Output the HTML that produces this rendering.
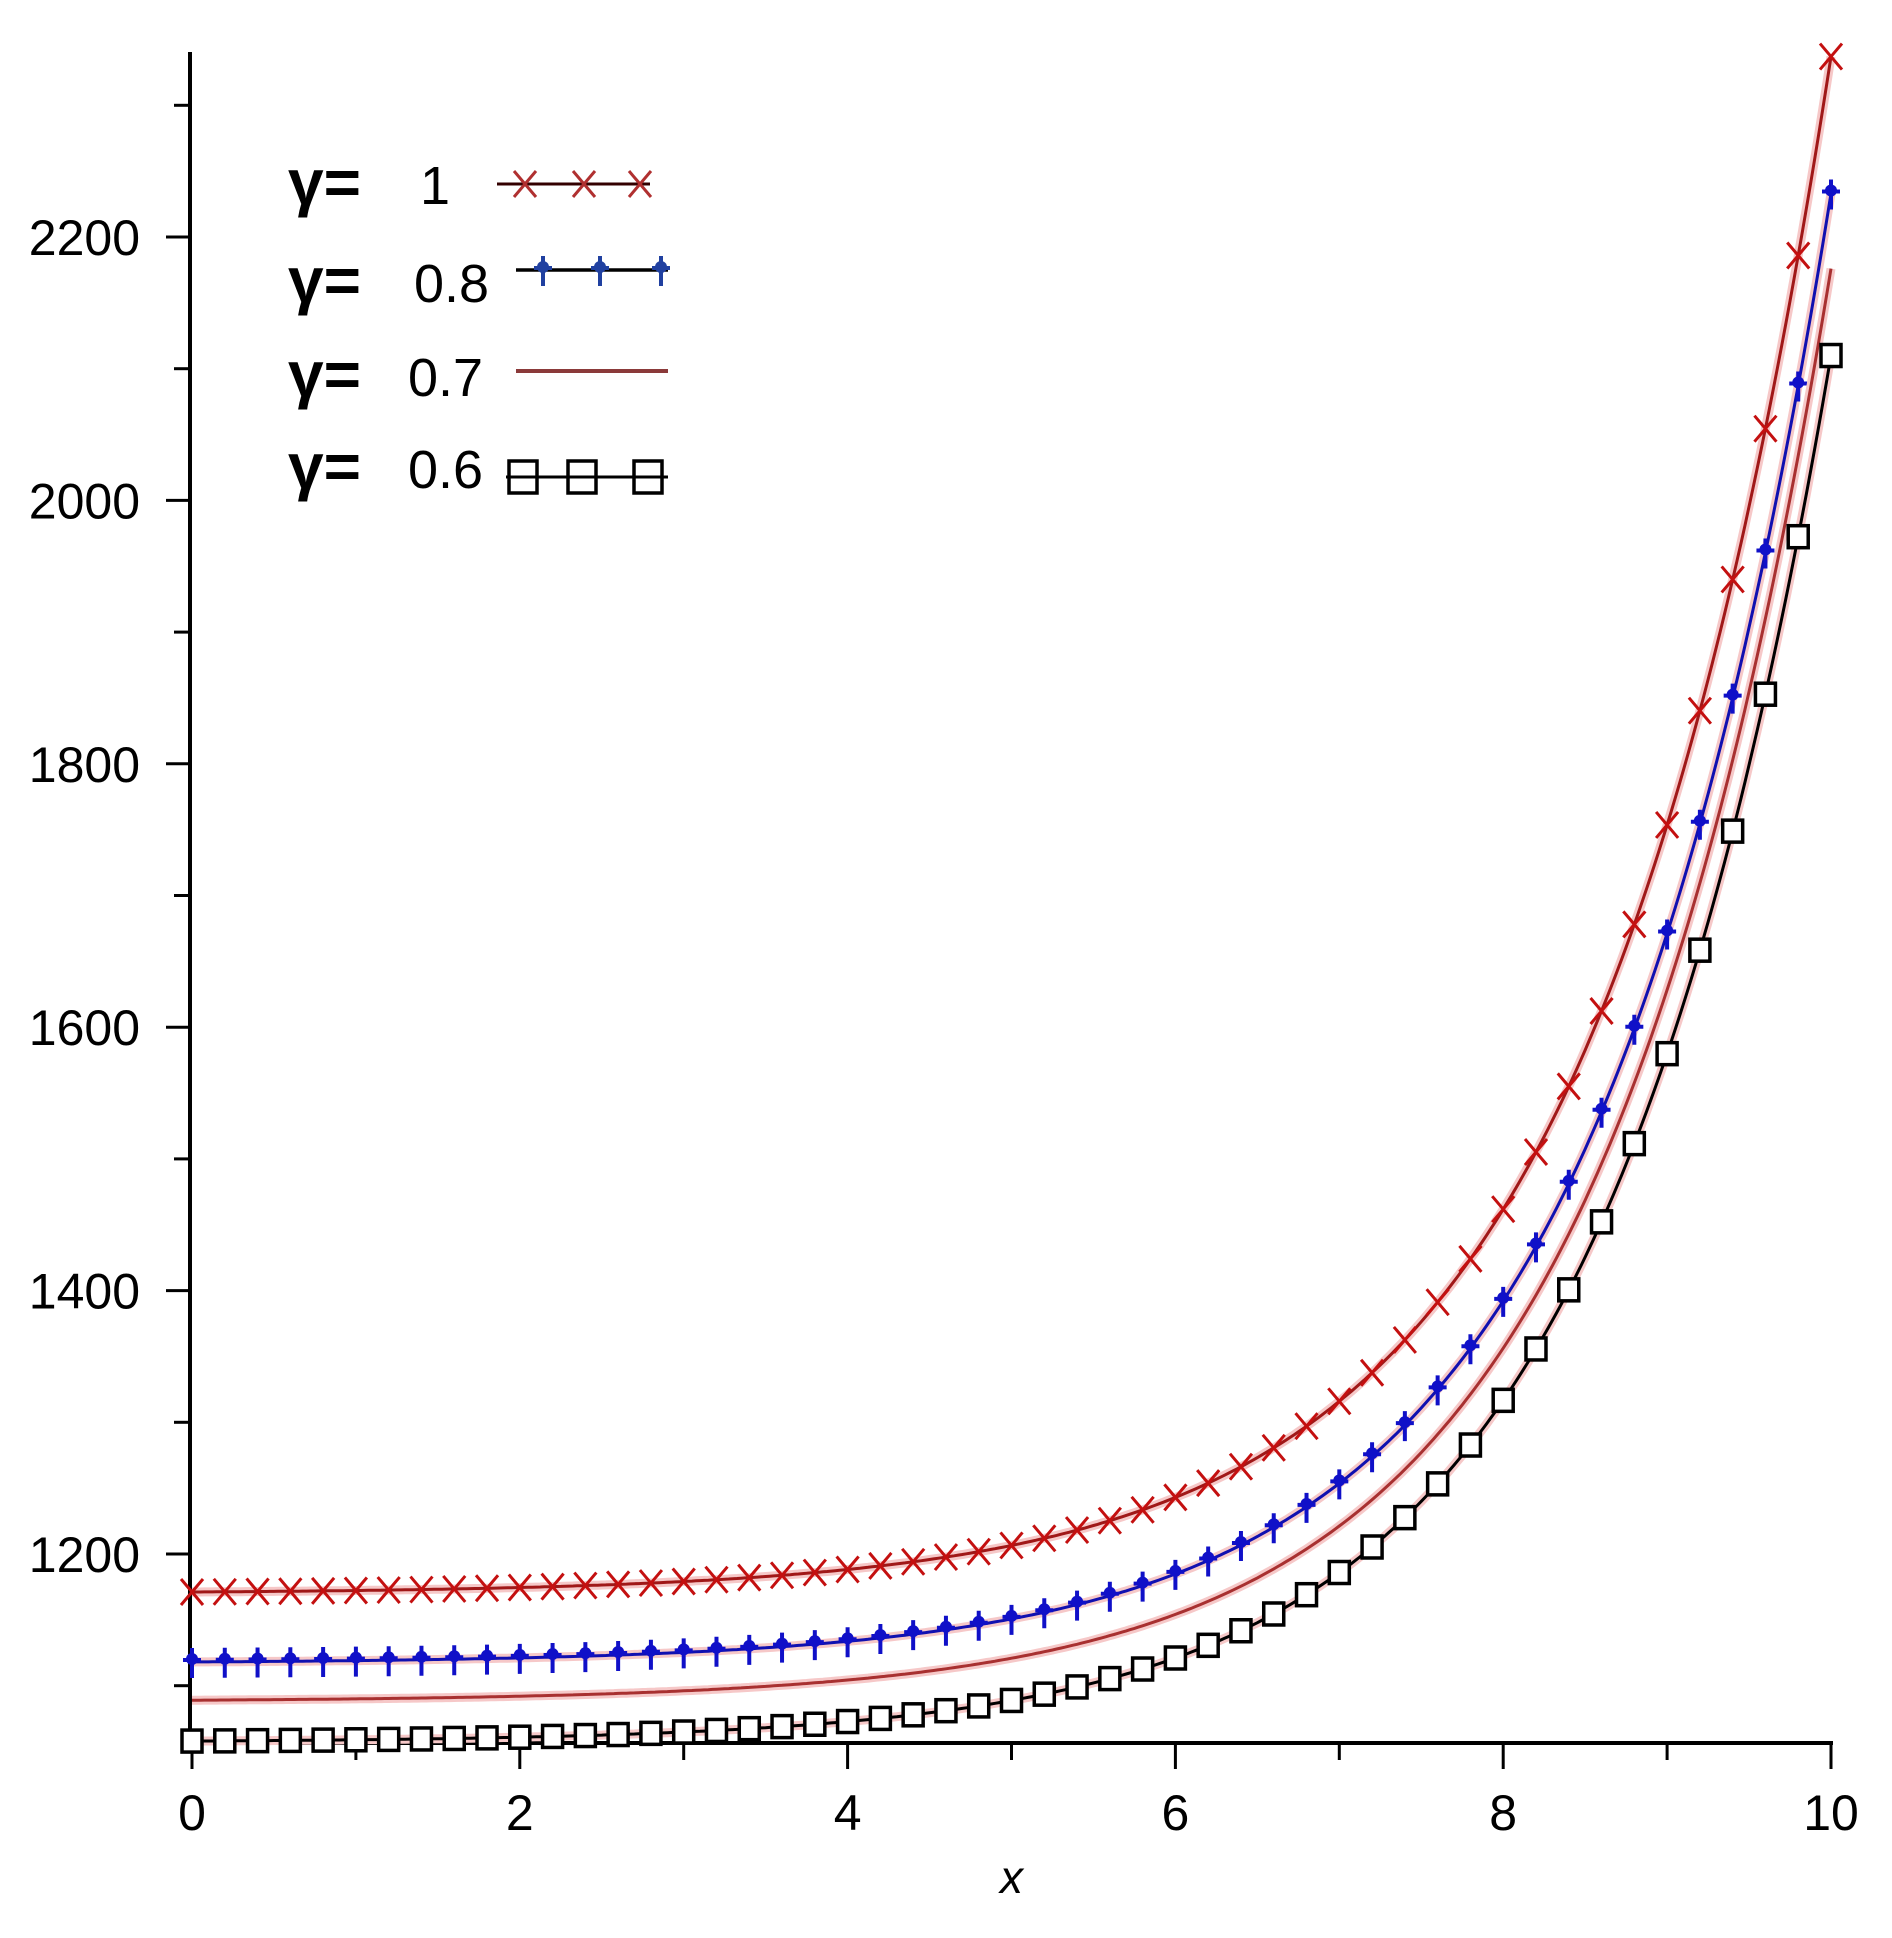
<!DOCTYPE html>
<html><head><meta charset="utf-8"><style>
html,body{margin:0;padding:0;background:#fff;}
svg{display:block;}
text{font-family:"Liberation Sans",sans-serif;}
</style></head><body>
<svg id="s" width="1892" height="1938" viewBox="0 0 1892 1938" xmlns="http://www.w3.org/2000/svg">
<g id="axes" stroke="#000" stroke-width="4" fill="none">
<line x1="190" y1="52" x2="190" y2="1745"/>
<line x1="188" y1="1743" x2="1833" y2="1743"/>
</g>
<g id="ticks" stroke="#000" stroke-width="3"></g>
<g id="labels" font-size="50" fill="#000"></g>
<text x="1000" y="1893" font-family="Liberation Serif" font-style="italic" font-size="46">x</text>
<g id="curves"></g>
<g id="legend" font-size="54">
<text x="288" y="204" font-family="Liberation Serif" font-weight="bold" font-size="64">γ=</text><text x="420" y="204">1</text>
<text x="288" y="302" font-family="Liberation Serif" font-weight="bold" font-size="64">γ=</text><text x="414" y="302">0.8</text>
<text x="288" y="396" font-family="Liberation Serif" font-weight="bold" font-size="64">γ=</text><text x="408" y="396">0.7</text>
<text x="288" y="488" font-family="Liberation Serif" font-weight="bold" font-size="64">γ=</text><text x="408" y="488">0.6</text>
</g>
</svg>
<script>
var NS="http://www.w3.org/2000/svg";
function el(p,t,a){var e=document.createElementNS(NS,t);for(var k in a)e.setAttribute(k,a[k]);document.getElementById(p)?document.getElementById(p).appendChild(e):p.appendChild(e);return e;}
function X(x){return 192+x*163.9;}
function Y(v){return 237+(2200-v)*1.317;}
for(var i=0;i<=10;i++){var L=(i%2==0)?26:17;el("ticks","line",{x1:X(i),y1:1743,x2:X(i),y2:1743+L});
 if(i%2==0){var t=el("labels","text",{x:X(i),y:1830,"text-anchor":"middle"});t.textContent=i;}}
for(var v=1100;v<=2300;v+=100){var maj=(v%200==0);el("ticks","line",{x1:maj?166:174,y1:Y(v),x2:190,y2:Y(v)});
 if(maj){var t=el("labels","text",{x:140,y:Y(v)+18,"text-anchor":"end"});t.textContent=v;}}
var series=[
 {a:1170,b:1167,c:0.693,col:"#c41010",lc:"#a01818",m:"x"},
 {a:1117,b:1116,c:0.70,col:"#1010c8",lc:"#1010b0",m:"star"},
 {a:1088,b:1088,c:0.70,col:"#a83030",lc:"#a83030",m:"none"},
 {a:1057,b:1053,c:0.70,col:"#000",lc:"#000",m:"sq"}];
var cg=document.getElementById("curves");
function marker(g,m,x,y,col){
 if(m=="x"){el(g,"path",{d:"M"+(x-11)+","+(y-13)+"L"+(x+11)+","+(y+13)+"M"+(x+11)+","+(y-13)+"L"+(x-11)+","+(y+13),stroke:col,"stroke-width":3,fill:"none"});}
 else if(m=="star"){el(g,"path",{d:"M"+x+","+(y-14)+"L"+x+","+(y+16)+"M"+(x-9)+","+(y-2)+"L"+(x+9)+","+(y-2),stroke:col,"stroke-width":4,fill:"none"});
  el(g,"circle",{cx:x,cy:y-3,r:6,fill:col});}
 else if(m=="sq"){el(g,"rect",{x:x-10,y:y-11,width:20,height:22,stroke:col,"stroke-width":3.5,fill:"#fff"});}
}
series.forEach(function(s){
 var d="";for(var k=0;k<=400;k++){var x=k/40;var v=s.a+s.b*Math.exp(s.c*(x-10));d+=(k?"L":"M")+X(x).toFixed(1)+","+Y(v).toFixed(1);}
 el(cg,"path",{d:d,stroke:"#f6c8c8","stroke-width":9,fill:"none"});
 el(cg,"path",{d:d,stroke:s.lc,"stroke-width":3,fill:"none"});
 if(s.m!="none")for(var k=0;k<=50;k++){var x=k/5;var v=s.a+s.b*Math.exp(s.c*(x-10));marker(cg,s.m,X(x),Y(v),s.col);}
});
var lg=document.getElementById("legend");
el(lg,"line",{x1:497,y1:184,x2:650,y2:184,stroke:"#300","stroke-width":3});
[525,584,640].forEach(function(x){marker(lg,"x",x,184,"#b03030");});
el(lg,"line",{x1:516,y1:270,x2:668,y2:270,stroke:"#000","stroke-width":3.5});
[543,600,661].forEach(function(x){marker(lg,"star",x,270,"#2040a0");});
el(lg,"line",{x1:516,y1:371,x2:668,y2:371,stroke:"#8b3a3a","stroke-width":4});
el(lg,"line",{x1:506,y1:477,x2:668,y2:477,stroke:"#000","stroke-width":3});
[523,582,648].forEach(function(x){el(lg,"rect",{x:x-14,y:461,width:28,height:32,stroke:"#000","stroke-width":3.5,fill:"none"});});
</script>
</body></html>
